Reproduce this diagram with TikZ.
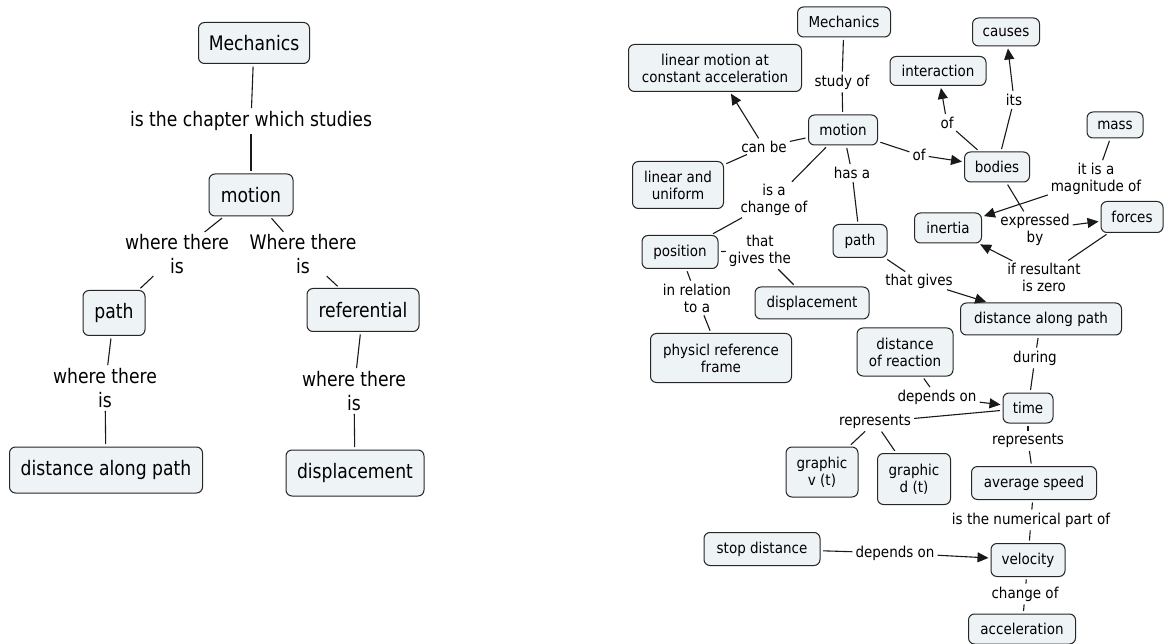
\documentclass[tikz,border=0pt]{standalone}
\usepackage{fontspec}
\setmainfont{DejaVu Sans}[FakeStretch=0.9]
\newfontfamily\leftfont{DejaVu Sans}[FakeStretch=0.86]
\usetikzlibrary{arrows.meta}
\definecolor{boxfill}{RGB}{238,243,246}
\begin{document}
\begin{tikzpicture}[x=1pt,y=-1pt,
  cbox/.style={draw=black!85, line width=1pt, rounded corners=6pt, fill=boxfill, align=center, inner sep=1pt},
  big/.style={font=\leftfont\fontsize{20}{24}\selectfont},
  small/.style={font=\fontsize{15}{17}\selectfont},
  lbl/.style={inner sep=0.5pt, align=center},
  conn/.style={line width=1.1pt, draw=black!90, shorten <=2.5pt, shorten >=2.5pt},
  arr/.style={conn, -{Triangle[length=11pt,width=10pt]}, shorten >=2pt}]
\useasboundingbox (0,0) rectangle (1165,644);
% ---------- left map ----------
\begin{scope}[every node/.append style={big}]
\node[cbox,minimum width=111pt,minimum height=41pt] (LMech) at (254,43) {Mechanics};
\node[lbl] (Llbl1) at (251,121) {is the chapter which studies};
\node[cbox,minimum width=84pt,minimum height=42pt] (LMot) at (251,195) {motion};
\node[lbl] (Llbl2) at (177,254) {where there\\is};
\node[lbl] (Llbl3) at (303,254) {Where there\\is};
\node[cbox,minimum width=62pt,minimum height=45pt] (LPath) at (114,313) {path};
\node[cbox,minimum width=112pt,minimum height=43pt] (LRef) at (363,310) {referential};
\node[lbl] (Llbl4) at (105,388) {where there\\is};
\node[lbl] (Llbl5) at (354,391) {where there\\is};
\node[cbox,minimum width=193pt,minimum height=46pt] (LDist) at (106,470) {distance along path};
\node[cbox,minimum width=138pt,minimum height=46pt] (LDisp) at (355,473) {displacement};
\end{scope}
\draw[conn] (LMech) -- (Llbl1);
\draw[conn] (Llbl1) -- (LMot);
\draw[conn] (LMot) -- (Llbl2);
\draw[conn] (Llbl2) -- (LPath);
\draw[conn] (LMot) -- (Llbl3);
\draw[conn] (Llbl3) -- (LRef);
\draw[conn] (LPath) -- (Llbl4);
\draw[conn] (Llbl4) -- (LDist);
\draw[conn] (LRef) -- (Llbl5);
\draw[conn] (Llbl5) -- (LDisp);
% ---------- right map ----------
\begin{scope}[every node/.append style={small}]
\node[cbox,minimum width=93pt,minimum height=30pt] (RMech) at (844,22) {Mechanics};
\node[cbox,minimum width=173pt,minimum height=47pt] (RLin) at (715,68) {linear motion at\\constant acceleration};
\node[lbl] (RStudy) at (842,82) {study of};
\node[cbox,minimum width=69pt,minimum height=30pt] (RMot) at (843,130) {motion};
\node[lbl] (RCanbe) at (764,147) {can be};
\node[cbox,minimum width=91pt,minimum height=47pt] (RUni) at (678,185) {linear and\\uniform};
\node[lbl] (RChg) at (774,200) {is a\\change of};
\node[lbl] (RHas) at (852,173) {has a};
\node[cbox,minimum width=54pt,minimum height=33pt] (RPath) at (860,241) {path};
\node[lbl] (ROf1) at (919,155) {of};
\node[cbox,minimum width=65pt,minimum height=30pt] (RBod) at (997,167) {bodies};
\node[cbox,minimum width=96pt,minimum height=29pt] (RInt) at (938,71) {interaction};
\node[cbox,minimum width=67pt,minimum height=28pt] (RCau) at (1006,32) {causes};
\node[lbl] (ROf2) at (947,123) {of};
\node[lbl] (RIts) at (1014,100) {its};
\node[cbox,minimum width=56pt,minimum height=26pt] (RMass) at (1115,125) {mass};
\node[lbl] (RMag) at (1096,179) {it is a\\magnitude of};
\node[cbox,minimum width=67pt,minimum height=30pt] (RIne) at (948,228) {inertia};
\node[cbox,minimum width=62pt,minimum height=31pt] (RFor) at (1132,217) {forces};
\node[lbl] (RExp) at (1035,230) {expressed\\by};
\node[lbl] (RRes) at (1044,277) {if resultant\\is zero};
\node[lbl] (RThat) at (919,281) {that gives};
\node[cbox,minimum width=161pt,minimum height=32pt] (RDist) at (1041,319) {distance along path};
\node[lbl] (RDur) at (1035,358) {during};
\node[cbox,minimum width=50pt,minimum height=30pt] (RTime) at (1028,408) {time};
\node[cbox,minimum width=96pt,minimum height=48pt] (RReac) at (905,352) {distance\\of reaction};
\node[lbl] (RDep1) at (937,397) {depends on};
\node[lbl] (RRep1) at (875,422) {represents};
\node[cbox,minimum width=72pt,minimum height=50pt] (RGv) at (822,472) {graphic\\v (t)};
\node[cbox,minimum width=73pt,minimum height=51pt] (RGd) at (914,479) {graphic\\d (t)};
\node[lbl] (RRep2) at (1028,441) {represents};
\node[cbox,minimum width=125pt,minimum height=33pt] (RAvg) at (1034,483) {average speed};
\node[lbl] (RNum) at (1031,520) {is the numerical part of};
\node[cbox,minimum width=74pt,minimum height=33pt] (RVel) at (1028,560) {velocity};
\node[cbox,minimum width=116pt,minimum height=33pt] (RStop) at (762,549) {stop distance};
\node[lbl] (RDep2) at (895,553) {depends on};
\node[lbl] (RChg2) at (1025,594) {change of};
\node[cbox,minimum width=107pt,minimum height=30pt] (RAcc) at (1022,629) {acceleration};
\node[cbox,minimum width=76pt,minimum height=33pt] (RPos) at (680,252) {position};
\node[lbl] (RGives) at (760,251) {that\\gives the};
\node[cbox,minimum width=114pt,minimum height=32pt] (RDisp) at (812,303) {displacement};
\node[lbl] (RRel) at (697,298) {in relation\\to a};
\node[cbox,minimum width=141pt,minimum height=49pt] (RPhys) at (721,358) {physicl reference\\frame};
\end{scope}
\draw[conn] (RMech) -- (RStudy);
\draw[conn] (RStudy) -- (RMot);
\draw[conn] (RMot) -- (RCanbe);
\draw[arr] (RCanbe) -- (RLin);
\draw[conn] (RCanbe) -- (RUni);
\draw[conn] (RMot) -- (RChg);
\draw[conn] (RChg) -- (RPos);
\draw[conn] (RMot) -- (RHas);
\draw[conn] (RHas) -- (RPath);
\draw[conn] (RMot) -- (ROf1);
\draw[arr] (ROf1) -- (RBod);
\draw[conn] (RBod) -- (ROf2);
\draw[arr] (ROf2) -- (RInt);
\draw[conn] (RBod) -- (RIts);
\draw[arr] (RIts) -- (RCau);
\draw[conn] (RMass) -- (RMag);
\draw[arr] (RMag) -- (RIne);
\draw[conn] (RBod) -- (RExp);
\draw[arr] (RExp) -- (RFor);
\draw[conn] (RFor) -- (RRes);
\draw[arr] (RRes) -- (RIne);
\draw[conn] (RPath) -- (RThat);
\draw[arr] (RThat) -- (RDist);
\draw[conn] (RDist) -- (RDur);
\draw[conn] (RDur) -- (RTime);
\draw[conn] (RReac) -- (RDep1);
\draw[arr] (RDep1) -- (RTime);
\draw[conn] (RTime) -- (RRep1);
\draw[conn] (RRep1) -- (RGv);
\draw[conn] (RRep1) -- (RGd);
\draw[conn] (RTime) -- (RRep2);
\draw[conn] (RRep2) -- (RAvg);
\draw[conn] (RAvg) -- (RNum);
\draw[conn] (RNum) -- (RVel);
\draw[conn] (RStop) -- (RDep2);
\draw[arr] (RDep2) -- (RVel);
\draw[conn] (RVel) -- (RChg2);
\draw[conn] (RChg2) -- (RAcc);
\draw[conn] (RPos) -- (RGives);
\draw[conn] (RGives) -- (RDisp);
\draw[conn] (RPos) -- (RRel);
\draw[conn] (RRel) -- (RPhys);
\end{tikzpicture}
\end{document}
